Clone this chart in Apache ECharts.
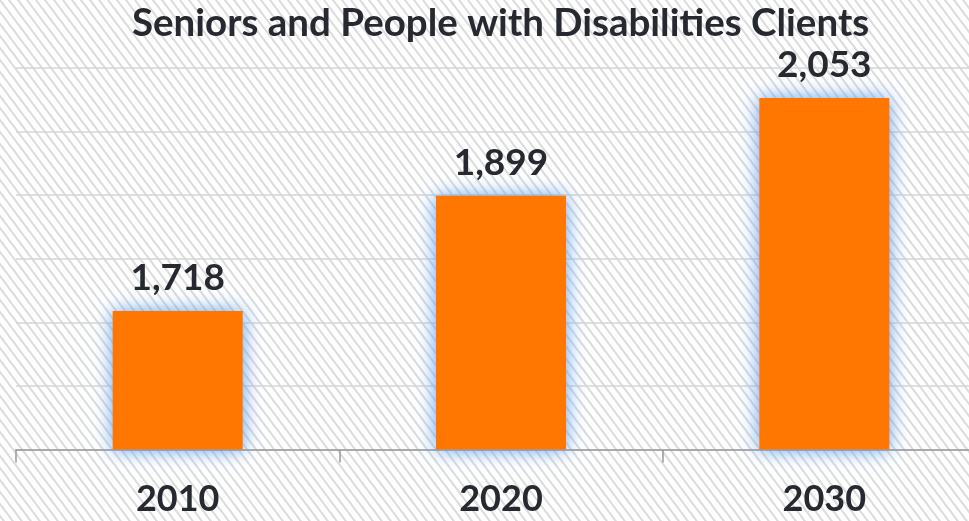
<!DOCTYPE html>
<html>
<head>
<meta charset="utf-8">
<script src="https://cdn.jsdelivr.net/npm/echarts@6/dist/echarts.min.js"></script>
<style>
html,body{margin:0;padding:0;background:#fff;}
#chart{width:969px;height:521px;}
</style>
</head>
<body>
<div id="chart"></div>
<script>
var titleText = 'Seniors and People with Disabilities Clients';
var categories = ['2010', '2020', '2030'];
var clients = [1718, 1899, 2053];
var yMin = 1500, yMax = 2100, yStep = 100;

function hatch() {
  var c = document.createElement('canvas');
  var w = 9, h = 12;
  c.width = w; c.height = h;
  var g = c.getContext('2d');
  g.fillStyle = '#ffffff';
  g.fillRect(0, 0, w, h);
  g.strokeStyle = '#dcdcdc';
  g.lineWidth = 2;
  g.beginPath();
  g.moveTo(-w, -h); g.lineTo(2 * w, 2 * h);
  g.moveTo(-2 * w, -h); g.lineTo(w, 2 * h);
  g.moveTo(0, -h); g.lineTo(3 * w, 2 * h);
  g.stroke();
  return c;
}

var chart = echarts.init(document.getElementById('chart'));
chart.setOption({
  backgroundColor: { image: hatch(), repeat: 'repeat' },
  animation: false,
  title: {
    text: titleText,
    left: 127,
    top: -1,
    textStyle: { fontFamily: 'Lato', fontWeight: 'bold', fontSize: 38.5, color: '#262a30' }
  },
  grid: { left: 16, width: 970, top: 68, bottom: 71.5, containLabel: false, outerBoundsMode: 'none' },
  xAxis: {
    type: 'category',
    data: categories,
    axisLine: { lineStyle: { color: '#999999', width: 1.5 } },
    axisTick: { show: true, length: 13, lineStyle: { color: '#999999', width: 1.5 } },
    axisLabel: { margin: 32, fontFamily: 'Lato', fontWeight: 'bold', fontSize: 36, color: '#262a30' }
  },
  yAxis: {
    type: 'value',
    min: yMin, max: yMax, interval: yStep,
    axisLabel: { show: false },
    axisLine: { show: false },
    axisTick: { show: false },
    splitLine: { lineStyle: { color: '#d6d6d6', width: 1.5 } }
  },
  series: [{
    type: 'bar',
    data: clients,
    barWidth: 130,
    itemStyle: {
      color: '#ff7700',
      shadowBlur: 18,
      shadowColor: 'rgba(100,160,235,1)'
    },
    label: {
      show: true,
      position: 'top',
      distance: 14,
      formatter: function (p) { return p.value.toLocaleString('en-US'); },
      fontFamily: 'Lato', fontWeight: 'bold', fontSize: 37, color: '#262a30'
    }
  }]
});
</script>
</body>
</html>
